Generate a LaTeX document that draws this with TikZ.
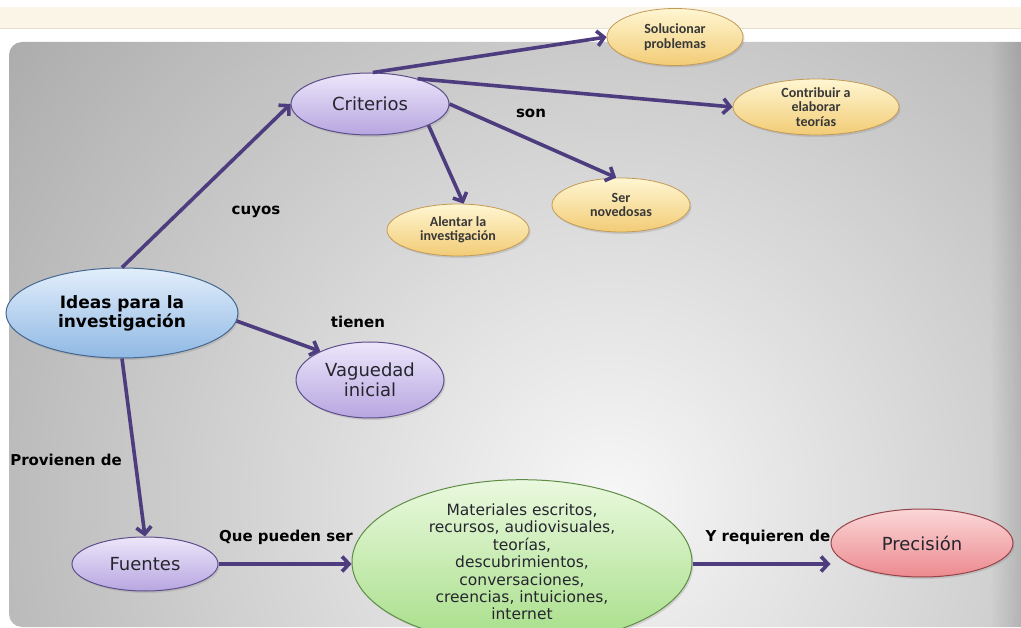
\documentclass[tikz,border=0pt]{standalone}
\usepackage{fontspec}
\setmainfont{DejaVu Sans}
\newfontfamily\leaffont{Carlito}
\usetikzlibrary{shapes.geometric,arrows.meta,shadows,fadings}

\definecolor{creamband}{HTML}{FBF5E7}
\definecolor{creamrule}{HTML}{E6DFCF}
\definecolor{panelin}{HTML}{F7F7F7}
\definecolor{panelout}{HTML}{A6A6A6}
\definecolor{linkcol}{HTML}{4E3D7E}
\definecolor{inkcol}{HTML}{26262E}
% lavender concepts
\definecolor{lavtop}{HTML}{ECE6FA}
\definecolor{lavbot}{HTML}{B7A6E0}
\definecolor{lavdraw}{HTML}{5E4E8C}
% blue root concept
\definecolor{bluetop}{HTML}{E2EEFB}
\definecolor{bluebot}{HTML}{90B9E4}
\definecolor{bluedraw}{HTML}{46678F}
% yellow leaves
\definecolor{yeltop}{HTML}{FFF6D2}
\definecolor{yelbot}{HTML}{F2CC76}
\definecolor{yeldraw}{HTML}{C39A55}
% green sources
\definecolor{grntop}{HTML}{EAF9DE}
\definecolor{grnbot}{HTML}{A6DE88}
\definecolor{grndraw}{HTML}{5F8C45}
% pink target
\definecolor{pnktop}{HTML}{FBD7D8}
\definecolor{pnkbot}{HTML}{EC8A8F}
\definecolor{pnkdraw}{HTML}{96434A}

\tikzset{
  concept/.style={ellipse, inner sep=0pt, line width=1pt, align=center,
    text=inkcol, drop shadow={opacity=0.25, shadow xshift=1.5pt, shadow yshift=-2pt}},
  lavnode/.style={concept, draw=lavdraw, top color=lavtop, bottom color=lavbot,
    font=\fontsize{18}{20}\selectfont},
  bluenode/.style={concept, draw=bluedraw, top color=bluetop, bottom color=bluebot,
    text=black, font=\fontsize{17}{19}\selectfont\bfseries},
  leafnode/.style={concept, draw=yeldraw, line width=0.8pt, top color=yeltop,
    bottom color=yelbot, text=black!78, font=\leaffont\fontsize{14}{14.5}\selectfont\bfseries},
  grnnode/.style={concept, draw=grndraw, top color=grntop, bottom color=grnbot,
    font=\fontsize{15.5}{17.4}\selectfont},
  pnknode/.style={concept, draw=pnkdraw, top color=pnktop, bottom color=pnkbot,
    font=\fontsize{18}{20}\selectfont},
  link/.style={draw=linkcol, line width=3.6pt,
    -{Straight Barb[length=7pt, width=15pt]}},
  linklabel/.style={text=black, font=\fontsize{15}{17}\selectfont\bfseries}
}

\begin{document}
\begin{tikzpicture}[x=1pt, y=-1pt]
\useasboundingbox (0,0) rectangle (1021,628);
\fill[white] (0,0) rectangle (1021,628);

% top band of the page
\fill[creamband] (0,7) rectangle (1021,28);
\draw[creamrule, line width=0.8pt] (0,28.5) -- (1021,28.5);

% grey slide panel
\begin{scope}
  \clip[rounded corners=13pt] (9,42) rectangle (1060,627);
  \shade[inner color=panelin, outer color=panelout] (610,500) circle (820);
  \fill[black, opacity=0.12, path fading=west] (990,42) rectangle (1021,627);
\end{scope}

% concepts
\node[bluenode, minimum width=232pt, minimum height=90pt] (ideas) at (122,313)
  {Ideas para la\\investigación};
\node[lavnode, minimum width=158pt, minimum height=62pt] (crit) at (370,104) {Criterios};
\node[lavnode, minimum width=148pt, minimum height=76pt] (vag) at (370,380)
  {Vaguedad\\inicial};
\node[lavnode, minimum width=146pt, minimum height=54pt] (fuen) at (145,564) {Fuentes};
\node[grnnode, minimum width=340pt, minimum height=140pt] (mat) at (522,562)
  {Materiales escritos,\\recursos, audiovisuales,\\teorías,\\descubrimientos,\\conversaciones,\\creencias, intuiciones,\\internet};
\node[pnknode, minimum width=182pt, minimum height=68pt] (prec) at (922,543) {Precisión};

% criteria
\node[leafnode, minimum width=136pt, minimum height=57pt] (sol) at (675,37)
  {Solucionar\\problemas};
\node[leafnode, minimum width=166pt, minimum height=56pt] (contr) at (816,107)
  {Contribuir a\\elaborar\\teorías};
\node[leafnode, minimum width=142pt, minimum height=52pt] (alen) at (458,230)
  {Alentar la\\investigación};
\node[leafnode, minimum width=138pt, minimum height=54pt] (ser) at (621,205)
  {Ser\\novedosas};

% connectors
\draw[link] (ideas.north) -- (crit.west);
\draw[link] (crit.85) -- (sol.west);
\draw[link] (crit.28) -- (contr.west);
\draw[link] (crit.-20) -- (alen.78);
\draw[link] (crit.east) -- (ser.100);
\draw[link] (ideas.-4) -- (vag.150);
\draw[link] (ideas.south) -- (fuen.north);
\draw[link] (fuen.east) -- (fuen.east -| mat.west);
\draw[link] (mat.east |- fuen.east) -- (fuen.east -| prec.west);

% connector labels
\node[linklabel] (lcuyos) at (256,212) {cuyos};
\node[linklabel] (lson) at (531,113) {son};
\node[linklabel] (ltienen) at (358,322) {tienen};
\node[linklabel] (lprov) at (66,460) {Provienen de};
\node[linklabel] (lque) at (286,537) {Que pueden ser};
\node[linklabel] (lreq) at (768,537) {Y requieren de};
\end{tikzpicture}
\end{document}
